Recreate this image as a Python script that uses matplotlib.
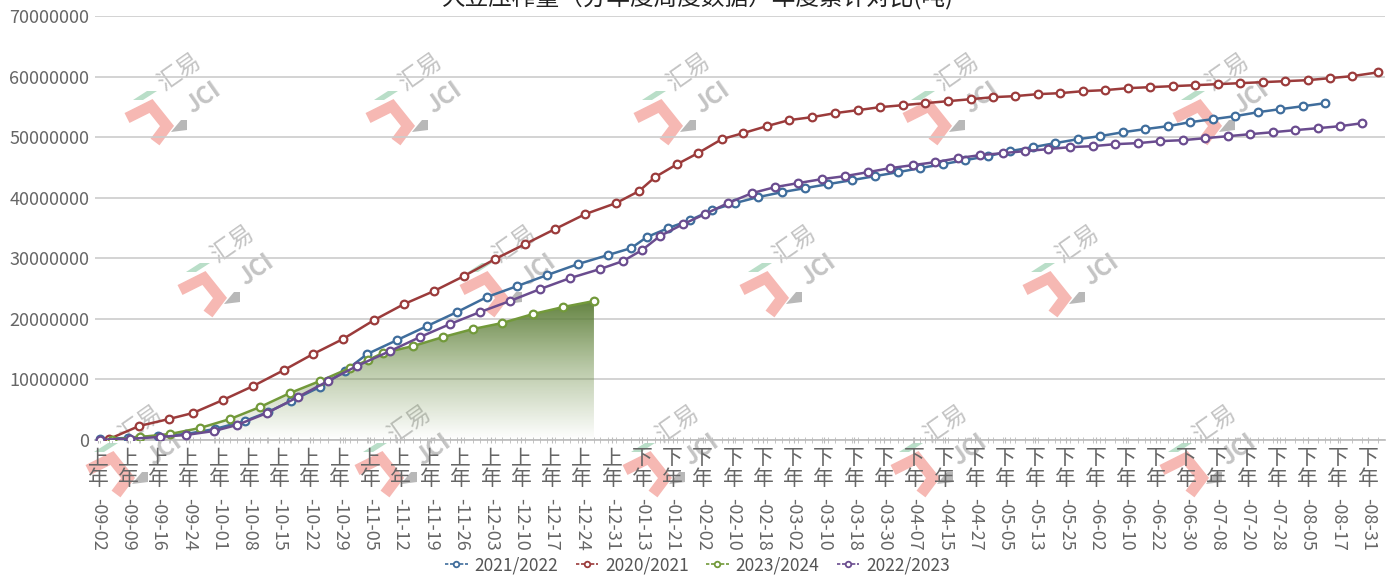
import numpy as np
import matplotlib
matplotlib.use("Agg")
import matplotlib.pyplot as plt
from matplotlib.colors import LinearSegmentedColormap
from matplotlib.lines import Line2D
from matplotlib.patches import Polygon
from matplotlib.ticker import FuncFormatter, MultipleLocator

plt.rcParams['font.family'] = ['Noto Sans CJK SC', 'DejaVu Sans']

# category labels along the season axis (上年 = first half, 下年 = second half)
tick_dates = ["09-02", "09-09", "09-16", "09-24", "10-01", "10-08", "10-15", "10-22",
              "10-29", "11-05", "11-12", "11-19", "11-26", "12-03", "12-10", "12-17",
              "12-24", "12-31", "01-13", "01-21", "02-02", "02-10", "02-18", "03-02",
              "03-10", "03-18", "03-30", "04-07", "04-15", "04-27", "05-05", "05-13",
              "05-25", "06-02", "06-10", "06-22", "06-30", "07-08", "07-20", "07-28",
              "08-05", "08-17", "08-31"]
tick_half = ["上"] * 18 + ["下"] * 25

# positions are measured in label steps along the category axis, values in million tonnes
x_2021 = [0.07, 1.0, 1.98, 2.91, 3.87, 4.86, 5.62, 6.38, 7.34, 8.17, 8.90, 9.89, 10.88,
          11.87, 12.86, 13.86, 14.85, 15.87, 16.86, 17.63, 18.15, 18.85, 19.58, 20.30,
          21.06, 21.83, 22.62, 23.38, 24.14, 24.93, 25.69, 26.46, 27.18, 27.94, 28.67,
          29.43, 30.16, 30.92, 31.65, 32.41, 33.13, 33.90, 34.62, 35.38, 36.11, 36.87,
          37.60, 38.36, 39.09, 39.85, 40.58]
v_2021 = [0.15, 0.35, 0.66, 0.99, 1.82, 3.14, 4.62, 6.44, 8.75, 11.39, 14.19, 16.50, 18.81,
          21.12, 23.60, 25.41, 27.23, 29.04, 30.53, 31.68, 33.50, 34.98, 36.30, 37.95,
          39.11, 40.10, 40.92, 41.58, 42.24, 42.90, 43.56, 44.22, 44.88, 45.54, 46.20,
          46.86, 47.69, 48.35, 49.01, 49.67, 50.16, 50.82, 51.32, 51.81, 52.47, 52.97,
          53.46, 54.12, 54.62, 55.11, 55.61]

x_2020 = [0.36, 1.36, 2.35, 3.14, 4.13, 5.13, 6.15, 7.11, 8.10, 9.13, 10.12, 11.11, 12.10,
          13.13, 14.12, 15.11, 16.11, 17.13, 17.89, 18.42, 19.15, 19.84, 20.63, 21.33,
          22.12, 22.85, 23.61, 24.37, 25.13, 25.86, 26.62, 27.35, 28.11, 28.87, 29.60,
          30.32, 31.08, 31.81, 32.57, 33.30, 34.06, 34.79, 35.55, 36.28, 37.04, 37.76,
          38.52, 39.25, 40.01, 40.74, 41.47, 42.33]
v_2020 = [0.15, 2.31, 3.47, 4.46, 6.60, 8.91, 11.55, 14.19, 16.67, 19.80, 22.44, 24.59,
          27.06, 29.87, 32.34, 34.82, 37.29, 39.11, 41.09, 43.40, 45.54, 47.36, 49.67,
          50.66, 51.82, 52.81, 53.30, 53.96, 54.46, 54.95, 55.28, 55.61, 55.94, 56.27,
          56.60, 56.77, 57.10, 57.26, 57.59, 57.76, 58.09, 58.25, 58.42, 58.58, 58.75,
          58.91, 59.08, 59.24, 59.41, 59.74, 60.07, 60.70]

x_2023 = [0.46, 1.39, 2.38, 3.37, 4.37, 5.36, 6.35, 7.34, 8.33, 8.93, 9.42, 10.42, 11.41,
          12.40, 13.36, 14.38, 15.38, 16.40]
v_2023 = [0.05, 0.50, 0.99, 1.98, 3.47, 5.45, 7.76, 9.74, 11.88, 13.20, 14.36, 15.51,
          17.00, 18.32, 19.31, 20.79, 21.95, 22.94]

x_2022 = [0.07, 1.06, 2.05, 2.91, 3.84, 4.60, 5.59, 6.61, 7.61, 8.56, 9.66, 10.65, 11.64,
          12.63, 13.62, 14.62, 15.61, 16.60, 17.36, 17.99, 18.58, 19.35, 20.07, 20.83,
          21.63, 22.39, 23.15, 23.94, 24.70, 25.46, 26.19, 26.95, 27.68, 28.44, 29.17,
          29.93, 30.65, 31.42, 32.14, 32.90, 33.63, 34.39, 35.12, 35.88, 36.61, 37.37,
          38.10, 38.86, 39.58, 40.34, 41.07, 41.80]
v_2022 = [0.05, 0.20, 0.50, 0.83, 1.49, 2.48, 4.46, 7.10, 9.74, 12.21, 14.69, 17.00, 19.14,
          21.12, 22.94, 24.92, 26.73, 28.22, 29.54, 31.35, 33.66, 35.64, 37.29, 39.11,
          40.76, 41.75, 42.41, 43.07, 43.56, 44.22, 44.88, 45.38, 45.87, 46.53, 47.03,
          47.36, 47.69, 48.02, 48.35, 48.51, 48.84, 49.01, 49.34, 49.50, 49.83, 50.16,
          50.49, 50.82, 51.15, 51.48, 51.81, 52.30]

series = [
    ("2021/2022", x_2021, v_2021, "#3f6d9c"),
    ("2020/2021", x_2020, v_2020, "#9b3b3b"),
    ("2023/2024", x_2023, v_2023, "#72993a"),
    ("2022/2023", x_2022, v_2022, "#6a4c8f"),
]

W, H = 1395, 578
fig = plt.figure(figsize=(W / 100, H / 100), dpi=100)
ax = fig.add_axes([95 / W, 1 - 440 / H, (1385 - 95) / W, (440 - 16) / H])
ax.patch.set_alpha(0)


def fxy(x, y):
    return (x / W, 1 - y / H)


# repeated company watermark behind the chart
def logo(ox, oy):
    pink = [(0, 0), (24, -12), (40, 8), (28, 24)]
    fig.add_artist(Line2D([fxy(ox + a, oy + b)[0] for a, b in pink],
                          [fxy(ox + a, oy + b)[1] for a, b in pink],
                          transform=fig.transFigure, color="#f6b8b3", lw=8,
                          solid_joinstyle="miter", solid_capstyle="butt", zorder=-2))
    green = [(6, -18), (20, -27), (30, -27), (16, -18)]
    fig.add_artist(Polygon([fxy(ox + a, oy + b) for a, b in green], closed=True,
                           transform=fig.transFigure, color="#b9dec8", lw=0, zorder=-2))
    grey = [(44, 14), (54, 2), (60, 2), (60, 12)]
    fig.add_artist(Polygon([fxy(ox + a, oy + b) for a, b in grey], closed=True,
                           transform=fig.transFigure, color="#b8b8b8", lw=0, zorder=-2))
    fig.text(*fxy(ox + 52, oy - 46), "汇易", rotation=35, fontsize=17, color="#c4c4c4",
             ha="center", va="center", zorder=-2)
    fig.text(*fxy(ox + 76, oy - 20), "JCI", rotation=35, fontsize=17, color="#c4c4c4",
             ha="center", va="center", zorder=-2, fontweight="bold")


for oy, xs in [(118, [127, 368, 636, 905, 1175]),
               (290, [180, 462, 742, 1025]),
               (470, [88, 357, 625, 893, 1162])]:
    for ox in xs:
        logo(ox, oy)

# cumulative series
for name, xs, vs, col in series:
    ax.plot(xs, np.array(vs) * 1e6, color=col, lw=1.8, marker="o", ms=5.5,
            mfc="white", mec=col, mew=1.6, zorder=4, label=name)

# gradient under the current season
gx = np.array(x_2023)
gy = np.array(v_2023) * 1e6
poly = Polygon(list(zip(gx, gy)) + [(gx[-1], 0), (gx[0], 0)], closed=True,
               facecolor="none", edgecolor="none")
ax.add_patch(poly)
cmap = LinearSegmentedColormap.from_list(
    "fade", [(0.42, 0.55, 0.27, 0.0), (0.42, 0.55, 0.27, 0.45), (0.36, 0.49, 0.22, 0.95)])
img = ax.imshow(np.linspace(0, 1, 256).reshape(-1, 1), extent=[gx[0], gx[-1], 0, gy.max()],
                origin="lower", aspect="auto", cmap=cmap, zorder=2)
img.set_clip_path(poly)

ax.set_xlim(-0.1, 42.56)
ax.set_ylim(0, 70000000)

ax.yaxis.set_major_locator(MultipleLocator(10000000))
ax.yaxis.set_major_formatter(FuncFormatter(lambda v, p: f"{int(v)}"))
ax.tick_params(axis="y", length=0, labelsize=13, labelcolor="#666666", pad=4)
ax.grid(axis="y", color="#cccccc", lw=1.2)
ax.set_axisbelow(True)
for s in ["left", "right", "top"]:
    ax.spines[s].set_visible(False)
ax.spines["bottom"].set_color("#bbbbbb")
ax.spines["bottom"].set_linewidth(1.2)

# minor ticks at every data date, labels written vertically
all_x = sorted(set(x_2021 + x_2020 + x_2023 + x_2022))
ax.set_xticks(all_x, minor=True)
ax.set_xticks(range(len(tick_dates)))
ax.set_xticklabels([])
ax.tick_params(axis="x", which="both", direction="inout", length=5, color="#bbbbbb")
for i, (h, d) in enumerate(zip(tick_half, tick_dates)):
    ax.annotate(h + "\n年", xy=(i, 0), xycoords=("data", "axes fraction"),
                xytext=(0, -5), textcoords="offset points", ha="center", va="top",
                fontsize=15, color="#666666", linespacing=0.95)
    ax.annotate("-" + d, xy=(i, 0), xycoords=("data", "axes fraction"),
                xytext=(0, -41.5), textcoords="offset points", ha="center", va="top",
                rotation=-90, fontsize=13, color="#666666")

handles = [Line2D([], [], color=c, lw=1.2, ls=(0, (2, 1)), marker="o", ms=4, mfc="white",
                  mec=c, mew=1.3) for _, _, _, c in series]
fig.legend(handles, [n for n, _, _, _ in series], loc="center", bbox_to_anchor=(0.5, 1 - 565 / H),
           ncol=4, frameon=False, fontsize=12.5, labelcolor="#555555", handlelength=1.3,
           handletextpad=0.4, columnspacing=1.0)

# heading sits partly above the canvas edge
fig.text(0.5, 1 - 4 / H, "大豆压榨量（分年度周度数据）年度累计对比(吨)", ha="center",
         va="baseline", fontsize=17, color="#222222")

fig.savefig("out.png", dpi=100)
